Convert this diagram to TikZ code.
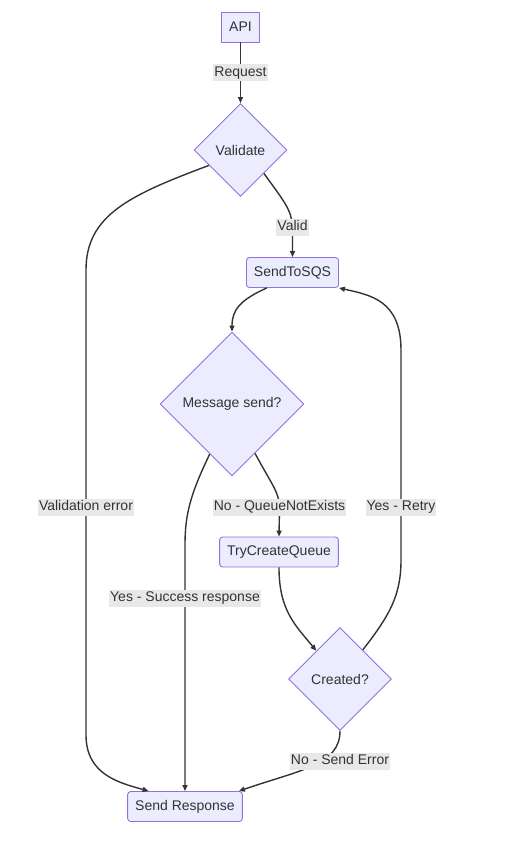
\documentclass[tikz,border=0pt]{standalone}
\usepackage{fontspec}
\setmainfont{Liberation Sans}
\usepackage{xcolor}
\usepackage{tikz}
\usetikzlibrary{shapes.geometric, arrows.meta, positioning}
\definecolor{NodeFill}{HTML}{ECECFF}
\definecolor{NodeLine}{HTML}{9370DB}
\definecolor{EdgeLine}{HTML}{333333}
\definecolor{LabelFill}{HTML}{E8E8E8}

\begin{document}
\begin{tikzpicture}[
  x=1pt, y=-1pt,
  font=\fontsize{14}{16}\selectfont,
  text=EdgeLine,
  box/.style={rectangle, rounded corners=3pt, draw=NodeLine, line width=0.9pt,
              fill=NodeFill, minimum height=30pt, inner xsep=7.5pt},
  apibox/.style={box, sharp corners},
  decision/.style={diamond, aspect=1, draw=NodeLine, line width=0.9pt,
                   fill=NodeFill, inner sep=0pt},
  lbl/.style={fill=LabelFill, inner xsep=1pt, inner ysep=2pt,
              text height=10pt, text depth=3pt},
  arrow/.style={-{Triangle[length=6pt, width=5pt]}, EdgeLine, line width=1.4pt},
]
\useasboundingbox (0,0) rectangle (509,841);

\node[apibox] (api) at (240.5,27) {API};
\node[decision, minimum size=93pt] (val) at (240.5,150) {Validate};
\node[box] (sqs) at (292.5,272.5) {SendToSQS};
\node[decision, minimum size=144pt] (msg) at (232,404) {Message send?};
\node[box] (tcq) at (279,552) {TryCreateQueue};
\node[decision, minimum size=103pt] (cr) at (340,679) {Created?};
\node[box] (sr) at (185,806.5) {Send Response};

\draw[arrow] (api) -- node[lbl] {Request} (val);
\draw[arrow] (val.south east) .. controls (283,200) and (292,210) .. (292.5,227)
  node[lbl] {Valid} -- (sqs.north);
\draw[arrow] (val.206) .. controls (130,195) and (86,215) .. (86,270) -- (86,507)
  node[lbl] {Validation error} -- (86,735) .. controls (86,775) and (120,783) .. (sr.157);
\draw[arrow] (sqs.211) .. controls (240,300) and (232,310) .. (msg.north);
\draw[arrow] (msg.295) .. controls (272,485) and (279,492) .. (279.5,507)
  node[lbl] {No - QueueNotExists} -- (tcq.north);
\draw[arrow] (msg.246) .. controls (190,495) and (185,515) .. (185,545) -- (185,598)
  node[lbl] {Yes - Success response} -- (sr.north);
\draw[arrow] (tcq.south) .. controls (279,610) and (295,625) .. (cr.130);
\draw[arrow] (cr.52) .. controls (390,615) and (401,595) .. (401,560) -- (401,507)
  node[lbl] {Yes - Retry} -- (401,350) .. controls (401,300) and (370,295) .. (sqs.south east);
\draw[arrow] (cr.south) .. controls (340,765) and (300,770) .. (sr.16)
  node[lbl] at (340,761) {No - Send Error};

\end{tikzpicture}
\end{document}
